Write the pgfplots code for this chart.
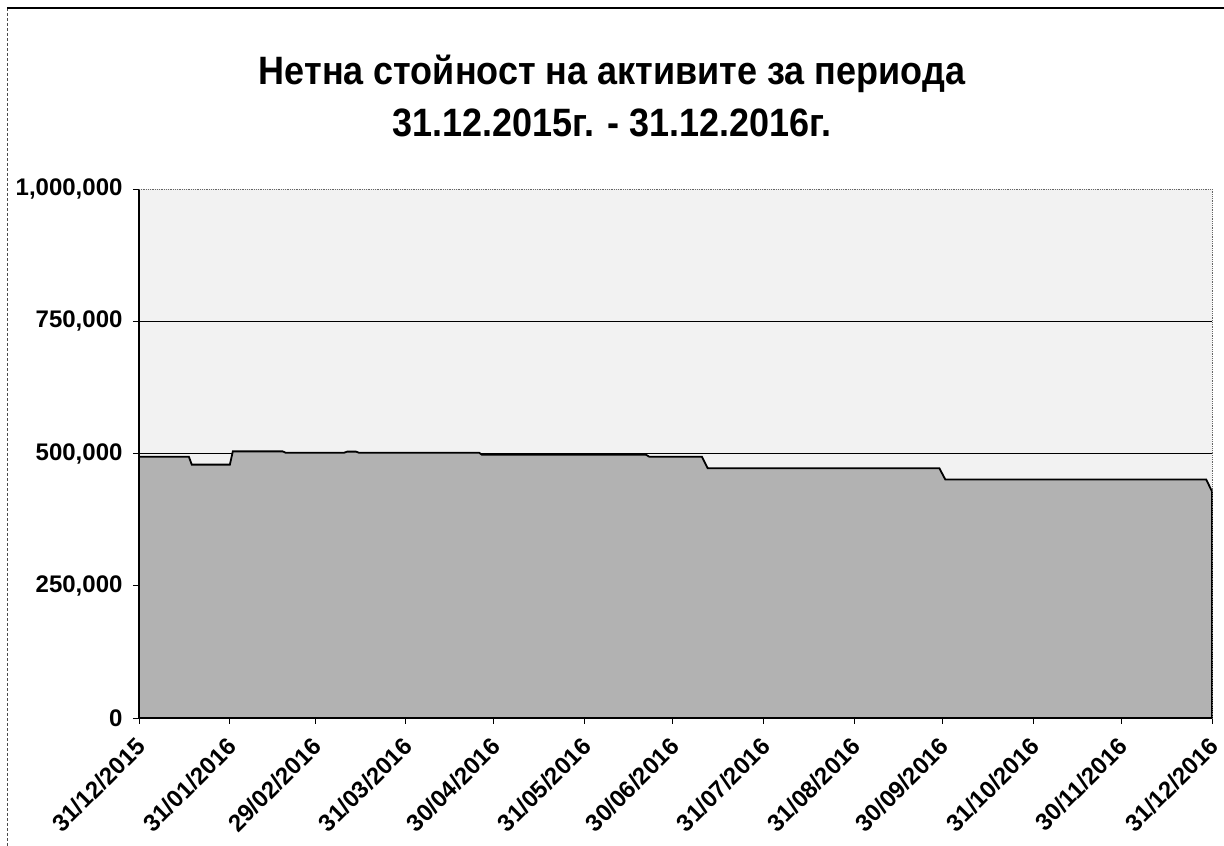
\documentclass[border=0pt]{standalone}
\usepackage{fontspec}
\setmainfont{Liberation Sans}
\usepackage{pgfplots}
\pgfplotsset{compat=1.18}
\begin{document}
\begin{tikzpicture}[x=1pt,y=1pt]
\useasboundingbox (0,0) rectangle (1224,846);
\draw[black!70, densely dashed, line width=0.8pt] (7,0) -- (7,838);
\draw[black, line width=1.5pt] (7,838) -- (1224,838);
\node[font=\fontsize{36}{43}\selectfont\bfseries, anchor=base, inner sep=0pt, yscale=1.1] at (612,761) {Нетна стойност на активите за периода};
\node[font=\fontsize{36}{43}\selectfont\bfseries, anchor=base, inner sep=0pt, yscale=1.1] at (612,709) {31.12.2015г. - 31.12.2016г.};
\begin{axis}[
  at={(139pt,128pt)}, anchor=south west,
  scale only axis, width=1073pt, height=529pt,
  xmin=0, xmax=366, ymin=0, ymax=1000000,
  scaled y ticks=false,
  axis background/.style={fill=black!5},
  axis line style={draw=none},
  xtick={0,31,60,91,121,152,182,213,244,274,305,335,366},
  xticklabels={31/12/2015,31/01/2016,29/02/2016,31/03/2016,30/04/2016,31/05/2016,30/06/2016,31/07/2016,31/08/2016,30/09/2016,31/10/2016,30/11/2016,31/12/2016},
  ytick={0,250000,500000,750000,1000000},
  yticklabels={0,{250,000},{500,000},{750,000},{1,000,000}},
  extra y ticks={250000,500000,750000},
  extra y tick labels={},
  extra y tick style={grid=major, major tick length=0pt},
  grid style={black, line width=1.2pt},
  xtick pos=bottom, ytick pos=left,
  tick align=outside, major tick length=6pt,
  tick style={black, line width=0.8pt},
  xticklabel style={rotate=45, anchor=north east, font=\fontsize{24}{27}\selectfont\bfseries, xshift=-8pt, yshift=-2pt},
  yticklabel style={font=\fontsize{24}{27}\selectfont\bfseries, xshift=-7pt},
  clip=false,
]
\addplot[fill=black!30, draw=black, line width=1.8pt] coordinates {
(0,494000) (17,494000) (18,479000) (31,479000) (32,504000) (49,504000) (50,501500)
(70,501500) (71,503500) (74,503500) (75,501500) (116,501500) (117,497500) (173,497500)
(174,494000) (192,494000) (194,472000) (273,472000) (275,451000) (364,451000)
(366,428000) (366,0)
} \closedcycle;
\draw[black, line width=1.6pt] (rel axis cs:0,0) -- (rel axis cs:0,1);
\draw[black, line width=2pt] (rel axis cs:0,0) -- (rel axis cs:1,0);
\draw[black!60, densely dotted, line width=0.8pt] (rel axis cs:0,1) -- (rel axis cs:1,1) -- (rel axis cs:1,0);
\end{axis}
\end{tikzpicture}
\end{document}
